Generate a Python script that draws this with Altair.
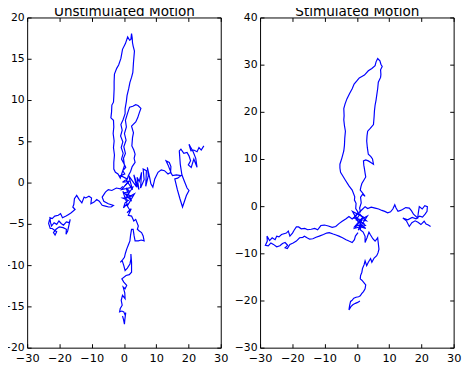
import altair as alt
import pandas as pd

# ---------------- data ----------------
TITLES = ["Unstimulated Motion", "Stimulated Motion"]
X_TICKS = [-30, -20, -10, 0, 10, 20, 30]
Y_TICKS_U = [-20, -15, -10, -5, 0, 5, 10, 15, 20]
Y_TICKS_S = [-30, -20, -10, 0, 10, 20, 30, 40]
X_DOMAIN = [-30, 30]
Y_DOMAIN_U = [-20, 20]
Y_DOMAIN_S = [-30, 40]

# Unstimulated motion: four tracks leaving the origin
U_UP = [(0.2,-0.3),(1.4,0.2),(-0.6,0.1),(0.8,0.5),(-1.2,0.9),(0.1,1.1),(-0.5,1.5),(0.4,1.9),(-0.1,2.3),(-0.9,2.9),
        (-0.4,3.6),(-1.0,4.3),(-0.5,5.0),(-1.2,5.7),(-0.7,6.4),(-1.1,7.1),(-0.4,7.7),(0.2,8.4),(0.2,9.0),(0.6,9.9),
        (0.8,10.6),(1.3,11.4),(1.7,12.2),(2.2,12.8),(2.6,13.4),(2.8,14.6),(3.1,16.0),(2.7,16.6),(2.5,17.0),(2.4,17.6),
        (2.2,18.1),(2.0,17.4),(1.6,17.3),(1.0,17.7),(0.3,16.9),(-0.6,16.2),(-1.1,15.1),(-1.8,14.3),(-2.4,13.9),(-3.1,13.2),
        (-3.2,12.3),(-3.2,11.4),(-3.3,10.5),(-3.4,9.8),(-3.9,9.45),(-4.0,8.6),(-4.2,7.9),(-3.4,7.6),(-3.3,6.8),(-3.5,6.0),
        (-3.2,5.1),(-3.4,4.3),(-3.1,3.4),(-3.3,2.5),(-3.3,1.7),(-2.8,1.3),(-2.0,1.1),(-1.3,0.6),(-0.6,1.4),(0.0,2.1),
        (-0.3,3.0),(0.3,3.6),(-0.2,4.4),(0.5,5.2),(0.0,6.0),(0.6,6.8),(0.3,7.6),(1.0,8.5),(1.6,9.2),(2.6,9.3),
        (3.5,9.5),(4.2,9.4),(5.1,9.05),(4.6,8.5),(4.1,7.9),(3.5,7.4),(2.2,6.9),(2.8,6.1),(2.5,5.5),(2.3,4.5),
        (2.9,4.0),(3.3,3.5),(3.0,3.0),(3.3,2.5),(2.4,2.0),(1.9,1.4),(1.2,0.9),(0.7,0.3)]
U_RIGHT = [(0.5,0.4),(2.5,-0.8),(1.3,0.9),(3.8,-0.5),(2.9,1.0),(4.5,-0.8),(3.9,0.7),(4.6,0.2),(5.3,1.3),(5.0,-0.6),
           (6.1,0.4),(5.8,1.7),(6.8,1.5),(6.6,-0.4),(7.4,0.9),(7.1,1.9),(7.8,0.7),(8.2,-0.1),(8.8,-0.5),(9.4,0.5),
           (10.4,1.3),(11.4,1.6),(12.4,1.5),(13.5,1.1),(14.4,1.3),(13.5,2.2),(12.9,2.7),(13.9,2.5),(14.4,2.0),(14.3,1.3),
           (14.9,0.9),(16.1,1.0),(17.5,0.9),(16.5,0.6),(15.6,0.5),(16.4,-0.8),(17.2,-1.9),(18.0,-2.9),(18.6,-2.2),(19.2,-1.5),
           (20.0,-0.9),(19.4,-0.6),(18.6,0.2),(17.8,1.0),(17.3,2.3),(17.0,3.9),(17.5,4.1),(18.4,3.6),(19.4,3.7),(20.0,3.3),
           (20.5,2.7),(19.8,2.2),(20.7,1.9),(21.5,2.9),(22.5,1.9),(22.1,3.0),(21.3,3.8),(20.0,4.7),(20.6,3.9),(21.5,4.0),
           (22.5,3.8),(23.1,4.3),(23.8,4.0),(24.6,4.5)]
U_LEFT = [(-0.5,-0.4),(-1.3,-0.7),(-2.5,-0.6),(-3.9,-0.9),(-5.0,-0.8),(-5.9,-1.1),(-6.9,-1.7),(-6.4,-2.2),(-5.0,-2.5),(-3.4,-2.7),
          (-4.1,-2.9),(-4.9,-2.9),(-5.9,-2.8),(-6.9,-2.7),(-7.8,-2.2),(-8.6,-2.0),(-9.4,-2.3),(-10.4,-2.5),(-10.2,-1.8),(-11.0,-1.6),
          (-12.0,-1.8),(-12.5,-1.7),(-13.2,-2.4),(-14.0,-2.0),(-14.8,-1.5),(-15.5,-1.9),(-15.7,-2.6),(-16.0,-2.9),(-15.3,-3.2),(-16.5,-3.6),
          (-17.3,-3.8),(-18.1,-4.0),(-19.2,-4.2),(-19.8,-3.7),(-20.5,-3.9),(-21.6,-4.0),(-22.4,-4.3),(-23.1,-4.2),(-22.9,-4.8),(-22.6,-5.2),
          (-21.8,-4.8),(-21.0,-5.0),(-20.3,-4.6),(-19.6,-4.9),(-18.9,-5.1),(-18.0,-4.7),(-17.1,-4.8),(-16.8,-4.4),(-17.6,-5.8),(-18.1,-6.2),
          (-18.0,-5.6),(-19.0,-5.4),(-20.2,-5.3),(-21.2,-5.6),(-22.0,-6.0),(-21.5,-6.3),(-21.0,-5.9),(-22.4,-5.5),(-23.0,-5.5),(-23.5,-4.9),
          (-23.2,-4.4)]
U_DOWN = [(1.5,0.3),(-0.9,-0.8),(2.6,-0.5),(0.3,-1.9),(3.1,-1.3),(1.0,-2.7),(-0.5,-1.0),(2.2,-2.2),(0.5,-0.6),(1.6,-1.0),
          (0.0,-1.2),(2.0,-1.6),(-0.6,-1.8),(1.2,-2.1),(0.2,-2.4),(-0.3,-3.0),(0.6,-2.6),(1.7,-3.3),(0.8,-3.6),(2.1,-3.1),
          (1.2,-3.9),(2.2,-4.0),(2.9,-4.6),(3.5,-4.4),(4.3,-5.2),(4.0,-5.6),(4.6,-5.8),(5.3,-6.0),(5.8,-6.4),(6.1,-7.0),
          (5.2,-6.9),(4.3,-7.0),(3.3,-7.0),(3.0,-6.4),(2.7,-5.6),(2.2,-5.6),(1.9,-6.3),(1.7,-7.0),(1.2,-7.5),(0.7,-8.0),
          (0.3,-8.5),(0.0,-9.0),(-0.6,-9.3),(-1.3,-9.6),(-0.7,-9.4),(-0.2,-10.0),(0.2,-10.6),(0.9,-10.3),(1.7,-9.8),(2.0,-9.2),
          (2.0,-8.6),(2.2,-9.6),(2.2,-10.8),(1.5,-11.1),(0.5,-11.2),(-0.8,-11.6),(-0.2,-12.0),(0.7,-12.4),(0.2,-12.8),(-0.4,-12.6),
          (0.1,-13.3),(0.2,-14.0),(-0.6,-13.6),(-1.0,-14.2),(-0.7,-14.8),(-1.3,-15.2),(-1.5,-15.6),(-0.8,-15.5),(-0.2,-15.6),(0.2,-16.0),
          (0.4,-15.7),(0.1,-16.6),(0.0,-17.1),(-0.3,-16.5),(-0.6,-16.1)]

# Stimulated motion: four tracks leaving the origin
S_UP = [(0.5,-3.5),(-1.5,-1.0),(1.8,-2.2),(-0.9,-4.6),(2.5,-4.0),(0.0,-2.5),(-0.6,-2.0),(0.2,-1.2),(-0.5,-0.4),(-0.4,0.7),
        (-0.9,1.4),(-0.8,2.1),(-1.6,3.5),(-2.6,4.4),(-3.7,5.6),(-4.5,6.5),(-5.2,7.3),(-5.4,8.2),(-5.4,9.0),(-4.8,10.3),
        (-4.2,11.8),(-4.0,13.0),(-3.9,14.5),(-3.7,16.0),(-4.0,17.2),(-4.2,18.4),(-4.1,19.3),(-4.2,20.8),(-3.8,21.8),(-3.2,22.9),
        (-2.4,24.0),(-1.6,25.0),(-1.0,26.0),(-0.1,26.7),(0.6,27.3),(1.4,27.6),(2.2,27.9),(3.4,28.8),(4.5,29.3),(5.5,29.9),
        (5.8,30.7),(6.3,31.4),(7.0,30.9),(7.3,30.2),(7.7,29.7),(7.2,29.0),(7.3,28.0),(7.2,27.4),(6.5,26.4),(6.3,25.0),
        (6.0,23.6),(5.8,22.6),(5.5,21.5),(5.3,20.3),(5.2,19.1),(5.0,17.4),(4.0,16.6),(3.2,16.0),(3.0,15.0),(2.9,13.9),
        (3.1,12.5),(3.4,11.1),(4.2,10.6),(4.7,10.1),(5.0,9.0),(4.3,9.3),(3.4,9.7),(2.6,9.9),(1.9,9.7),(2.0,8.8),
        (2.2,8.0),(2.4,7.1),(2.6,6.3),(2.0,5.6),(1.4,4.9),(1.1,4.2),(0.9,3.5),(1.6,2.9),(2.4,2.2),(1.6,2.6),
        (1.0,2.0),(1.2,0.8),(0.7,-0.3),(1.0,-1.2)]
S_RIGHT = [(0.4,-1.4),(2.8,-3.0),(-1.2,-2.4),(1.5,-0.6),(2.4,0.0),(3.2,-0.4),(4.3,-0.1),(5.5,-0.3),(6.6,-0.5),(7.6,-0.8),
           (8.5,-1.0),(9.4,-1.3),(10.3,-1.1),(11.0,-0.5),(11.6,0.4),(12.0,-0.3),(12.6,-1.0),(13.4,-0.8),(14.0,-0.6),(15.0,-0.2),
           (16.1,-0.3),(16.8,-0.9),(17.4,-1.6),(18.7,-2.4),(18.9,-1.3),(19.2,0.0),(20.1,-0.5),(20.9,0.2),(21.7,0.0),(21.6,-1.0),
           (21.0,-1.6),(20.2,-2.2),(19.3,-2.0),(18.2,-2.6),(17.0,-2.3),(15.6,-2.8),(14.1,-2.4),(15.2,-3.0),(16.1,-4.2),(16.9,-3.4),
           (17.9,-3.0),(18.8,-3.3),(19.7,-3.8),(20.7,-3.1),(21.3,-3.7),(22.0,-3.9),(22.7,-4.2)]
S_LEFT = [(-0.6,-2.1),(-1.6,-2.6),(-2.6,-2.1),(-3.6,-2.6),(-4.7,-3.1),(-5.7,-3.6),(-6.7,-4.2),(-7.8,-4.4),(-9.0,-4.1),(-10.2,-3.9),
          (-11.3,-4.0),(-12.3,-4.9),(-13.2,-4.6),(-14.3,-4.8),(-15.4,-4.9),(-16.3,-4.6),(-17.4,-4.7),(-18.2,-4.3),(-18.9,-4.3),(-19.6,-5.0),
          (-20.1,-5.6),(-20.9,-6.25),(-21.4,-5.2),(-22.0,-5.6),(-23.5,-5.9),(-24.3,-6.4),(-25.0,-6.25),(-25.5,-7.0),(-26.4,-6.6),(-27.2,-7.2),
          (-28.0,-6.25),(-27.9,-7.3),(-28.5,-8.2),(-27.6,-8.3),(-26.8,-7.7),(-26.0,-8.0),(-25.0,-8.5),(-24.0,-8.3),(-23.2,-7.8),(-22.4,-7.6),
          (-21.6,-8.2),(-22.4,-8.7),(-21.7,-8.9),(-20.9,-8.0),(-19.9,-7.7),(-18.9,-7.3),(-17.9,-6.6),(-16.9,-6.5),(-16.4,-6.25),(-15.6,-6.6),
          (-14.8,-6.9),(-13.8,-6.8),(-12.8,-6.5),(-11.8,-6.25),(-10.5,-5.9),(-9.5,-5.6),(-8.7,-5.5),(-7.5,-5.8),(-6.6,-6.0),(-5.7,-6.25),
          (-4.6,-6.6),(-3.5,-7.0),(-2.6,-7.3),(-1.6,-7.6),(-0.9,-7.0),(-0.6,-6.25),(0.2,-5.5)]
S_DOWN = [(0.9,-1.5),(-0.4,-2.8),(1.9,-3.6),(-0.8,-4.2),(1.5,-2.4),(0.3,-5.0),(3.1,-2.0),(1.4,-2.6),(0.6,-3.4),(2.6,-4.6),
          (1.1,-4.3),(0.9,-4.9),(1.8,-5.4),(2.4,-6.3),(2.4,-7.6),(3.0,-6.6),(3.6,-5.4),(4.0,-5.9),(4.8,-6.8),(5.5,-7.3),
          (6.0,-6.9),(6.3,-6.6),(6.5,-7.8),(6.7,-9.0),(6.4,-9.8),(6.0,-10.4),(5.2,-10.9),(4.5,-11.8),(4.1,-11.0),(3.4,-11.8),
          (2.9,-12.5),(2.4,-11.5),(2.1,-12.3),(1.6,-13.1),(1.4,-13.9),(1.0,-14.6),(0.9,-15.3),(1.4,-15.6),(1.9,-16.0),(2.6,-16.6),
          (2.4,-17.4),(1.9,-18.0),(1.4,-18.4),(0.9,-18.9),(0.4,-19.1),(-0.4,-19.2),(-1.1,-19.4),(-1.7,-19.9),(-2.1,-20.1),(-2.4,-21.0),
          (-2.6,-21.9),(-2.0,-21.2),(-1.4,-20.8),(-0.6,-20.5),(0.1,-20.3),(0.8,-20.0)]

UNSTIM = {"up": U_UP, "right": U_RIGHT, "left": U_LEFT, "down": U_DOWN}
STIM = {"up": S_UP, "right": S_RIGHT, "left": S_LEFT, "down": S_DOWN}


def to_frame(tracks):
    rows = []
    for name, pts in tracks.items():
        for i, (x, y) in enumerate(pts):
            rows.append({"path": name, "i": i, "x": x, "y": y})
    return pd.DataFrame(rows)


# ---------------- layout ----------------
W, H = 434, 336
FONT = "DejaVu Sans"
BLUE = "#0000ff"


def panel(df, x0, x1, y_domain, y_ticks, title):
    xs = alt.Scale(domain=X_DOMAIN, range=[x0, x1], nice=False, zero=False)
    ys = alt.Scale(domain=y_domain, range=[H, 0], nice=False, zero=False)
    lab = dict(labelFont=FONT, labelColor="black",
               ticks=False, tickSize=0, grid=False, title=None, labelFlush=False,
               labelOverlap=False, domain=True, domainColor="black", domainWidth=1, translate=0)
    tck = dict(labels=False, ticks=True, tickSize=4, tickColor="black", tickWidth=1,
               grid=False, title=None, translate=0, domainColor="black", domainWidth=1)

    line = alt.Chart(df).mark_line(color=BLUE, strokeWidth=1.2, clip=True).encode(
        x=alt.X("x:Q", scale=xs, axis=alt.Axis(orient="bottom", values=X_TICKS, labelFontSize=11.5,
                                                labelPadding=5, **lab)),
        y=alt.Y("y:Q", scale=ys, axis=alt.Axis(orient="left", offset=-x0, values=y_ticks, labelFontSize=11,
                                                labelPadding=3, **lab)),
        detail="path:N",
        order="i:Q",
    )
    ticks_a = alt.Chart(df).mark_point(opacity=0).encode(
        x=alt.X("x:Q", scale=xs, axis=alt.Axis(orient="top", offset=-H, values=X_TICKS, domain=False, **tck)),
        y=alt.Y("y:Q", scale=ys, axis=alt.Axis(orient="right", offset=-(W - x0), values=y_ticks, domain=False, **tck)),
    )
    ticks_b = alt.Chart(df).mark_point(opacity=0).encode(
        x=alt.X("x:Q", scale=xs, axis=alt.Axis(orient="bottom", offset=-H, values=X_TICKS, domain=True, **tck)),
        y=alt.Y("y:Q", scale=ys, axis=alt.Axis(orient="left", offset=-x1, values=y_ticks, domain=True, **tck)),
    )
    ttl = alt.Chart(pd.DataFrame({"title": [title], "x": [0]})).mark_text(
        font=FONT, fontSize=13.8, color="black", align="center", baseline="alphabetic"
    ).encode(
        x=alt.X("x:Q", scale=xs, axis=None),
        y=alt.value(-2),
        text="title:N",
    )
    return [line, ticks_a, ticks_b, ttl]


layers = (panel(to_frame(UNSTIM), 0, 197, Y_DOMAIN_U, Y_TICKS_U, TITLES[0])
          + panel(to_frame(STIM), 237, 434, Y_DOMAIN_S, Y_TICKS_S, TITLES[1]))

chart = alt.layer(*layers).resolve_scale(x="independent", y="independent").properties(
    width=W, height=H,
    autosize=alt.AutoSizeParams(type="none"),
    padding={"left": 20, "top": 7, "right": 8, "bottom": 15},
).configure_view(stroke=None)

chart.save("out.html", embed_options={"renderer": "svg", "actions": False})
